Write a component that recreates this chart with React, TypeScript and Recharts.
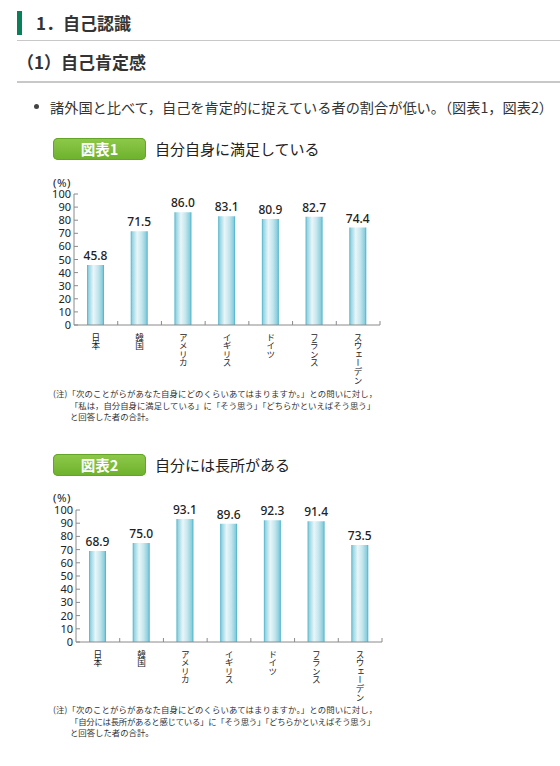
import React from 'react';
import { BarChart, Bar, XAxis, YAxis, LabelList } from 'recharts';

const categories = ['日本', '韓国', 'アメリカ', 'イギリス', 'ドイツ', 'フランス', 'スウェーデン'];
const fig1Values = [45.8, 71.5, 86.0, 83.1, 80.9, 82.7, 74.4];
const fig2Values = [68.9, 75.0, 93.1, 89.6, 92.3, 91.4, 73.5];
const yTicks = [0, 10, 20, 30, 40, 50, 60, 70, 80, 90, 100];

const fig1Title = '自分自身に満足している';
const fig2Title = '自分には長所がある';
const fig1Notes = [
  '(注)「次のことがらがあなた自身にどのくらいあてはまりますか。」との問いに対し，',
  '「私は，自分自身に満足している」に「そう思う」「どちらかといえばそう思う」',
  'と回答した者の合計。',
];
const fig2Notes = [
  '(注)「次のことがらがあなた自身にどのくらいあてはまりますか。」との問いに対し，',
  '「自分には長所があると感じている」に「そう思う」「どちらかといえばそう思う」',
  'と回答した者の合計。',
];

const JP = '"Noto Sans CJK JP", "Noto Sans", sans-serif';
const NUM = '"Noto Sans", "DejaVu Sans", sans-serif';
const AXIS = '#8a8a8a';

const YTick = (props: any) => {
  const { x, y, payload } = props;
  return (
    <g>
      <line x1={x} y1={y} x2={x + 4} y2={y} stroke={AXIS} strokeWidth={1} />
      <text x={x - 3} y={y} dy={4} textAnchor="end" fontSize={11} fill="#222" fontFamily={NUM}>
        {payload.value}
      </text>
    </g>
  );
};

const XTick = (props: any) => {
  const { x, y, payload } = props;
  const off = payload.offset ?? 21.86;
  return (
    <g>
      <line x1={x + off} y1={y} x2={x + off} y2={y - 4} stroke={AXIS} strokeWidth={1} />
      <text
        x={x}
        y={y + 8}
        textAnchor="start"
        fontSize={8.6}
        fill="#222"
        fontFamily={JP}
        style={{ writingMode: 'vertical-rl' } as any}
      >
        {payload.value}
      </text>
    </g>
  );
};

function Chart({ values, top, left, plotHeight, gid }: { values: number[]; top: number; left: number; plotHeight: number; gid: string }) {
  const data = categories.map((name, i) => ({ name, value: values[i] }));
  const marginTop = 44;
  const height = marginTop + plotHeight + 74;
  return (
    <div style={{ position: 'absolute', left, top }}>
      <BarChart
        width={560}
        height={height}
        data={data}
        margin={{ top: marginTop, right: 180, left: 0, bottom: 14 }}
        barCategoryGap={0}
      >
        <defs>
          <linearGradient id={gid} x1="0" y1="0" x2="1" y2="0">
            <stop offset="0%" stopColor="#4ab2ca" />
            <stop offset="10%" stopColor="#98d5e2" />
            <stop offset="38%" stopColor="#e9f6f9" />
            <stop offset="65%" stopColor="#c3e6ee" />
            <stop offset="90%" stopColor="#8acedd" />
            <stop offset="100%" stopColor="#46adc6" />
          </linearGradient>
        </defs>
        <XAxis
          dataKey="name"
          interval={0}
          height={60}
          tickSize={0}
          tickMargin={0}
          axisLine={{ stroke: AXIS, strokeWidth: 1 }}
          tickLine={false}
          tick={<XTick />}
        />
        <YAxis
          width={74}
          domain={[0, 100]}
          ticks={yTicks}
          interval={0}
          tickSize={0}
          tickMargin={0}
          axisLine={{ stroke: AXIS, strokeWidth: 1 }}
          tickLine={false}
          tick={<YTick />}
        />
        <Bar dataKey="value" fill={`url(#${gid})`} barSize={17} isAnimationActive={false}>
          <LabelList
            dataKey="value"
            position="top"
            offset={5}
            formatter={(v: any) => Number(v).toFixed(1)}
            style={{ fontSize: 12, fill: '#222', fontFamily: NUM, fontWeight: 500 }}
          />
        </Bar>
      </BarChart>
    </div>
  );
}

function Badge({ label, title, top }: { label: string; title: string; top: number }) {
  return (
    <>
      <div
        style={{
          position: 'absolute',
          left: 53,
          top,
          width: 93,
          height: 22,
          borderRadius: 5,
          background: 'linear-gradient(#8fc94a, #6cb12c)',
          boxShadow: 'inset 0 0 0 1px #63a526',
          color: '#fff',
          fontFamily: JP,
          fontWeight: 700,
          fontSize: 14.5,
          lineHeight: '22px',
          textAlign: 'center',
        }}
      >
        {label}
      </div>
      <div
        style={{
          position: 'absolute',
          left: 155,
          top,
          height: 22,
          lineHeight: '22px',
          fontFamily: JP,
          fontSize: 15,
          color: '#222',
          whiteSpace: 'nowrap',
        }}
      >
        {title}
      </div>
    </>
  );
}

function Notes({ lines, top }: { lines: string[]; top: number }) {
  return (
    <svg style={{ position: 'absolute', left: 0, top }} width={560} height={40}>
      <text x={53} y={9} fontSize={8.4} fontFamily={JP} fill="#333" textLength={324} lengthAdjust="spacing">
        {lines[0]}
      </text>
      <text x={70} y={21} fontSize={8.4} fontFamily={JP} fill="#333" textLength={305} lengthAdjust="spacing">
        {lines[1]}
      </text>
      <text x={70} y={32} fontSize={8.4} fontFamily={JP} fill="#333">
        {lines[2]}
      </text>
    </svg>
  );
}

function PctLabel({ top }: { top: number }) {
  return (
    <div
      style={{
        position: 'absolute',
        left: 53,
        top,
        fontFamily: NUM,
        fontSize: 11.5,
        letterSpacing: 0.5,
        color: '#222',
        lineHeight: '11px',
        height: 11,
      }}
    >
      (%)
    </div>
  );
}

export default function App() {
  return (
    <div style={{ position: 'absolute', left: 0, top: 0, width: 560, height: 766, background: '#fff', overflow: 'hidden' }}>
      <div style={{ position: 'absolute', left: 17, top: 11, width: 5, height: 24, background: '#0a7f5a' }} />
      <div
        style={{
          position: 'absolute',
          left: 36,
          top: 11,
          height: 24,
          lineHeight: '24px',
          fontFamily: JP,
          fontWeight: 700,
          fontSize: 17,
          color: '#333',
          whiteSpace: 'nowrap',
        }}
      >
        1．自己認識
      </div>
      <div style={{ position: 'absolute', left: 17, top: 40, width: 543, height: 1, background: '#c8c8c8' }} />
      <div
        style={{
          position: 'absolute',
          left: 17,
          top: 50,
          height: 24,
          lineHeight: '24px',
          fontFamily: JP,
          fontWeight: 700,
          fontSize: 17,
          color: '#333',
          whiteSpace: 'nowrap',
        }}
      >
        （1）自己肯定感
      </div>
      <div style={{ position: 'absolute', left: 17, top: 81, width: 543, height: 2, background: '#c8c8c8' }} />
      <div style={{ position: 'absolute', left: 34, top: 104, width: 5, height: 5, borderRadius: 3, background: '#444' }} />
      <div
        style={{
          position: 'absolute',
          left: 50,
          top: 96,
          height: 22,
          lineHeight: '22px',
          fontFamily: JP,
          fontSize: 14.2,
          color: '#333',
          whiteSpace: 'nowrap',
        }}
      >
        諸外国と比べて，自己を肯定的に捉えている者の割合が低い。（図表1，図表2）
      </div>

      <Badge label="図表1" title={fig1Title} top={138} />
      <PctLabel top={177} />
      <Chart values={fig1Values} top={150} left={0} plotHeight={131} gid="g1" />
      <Notes lines={fig1Notes} top={388} />

      <Badge label="図表2" title={fig2Title} top={454} />
      <PctLabel top={492} />
      <Chart values={fig2Values} top={466} left={2} plotHeight={132} gid="g2" />
      <Notes lines={fig2Notes} top={704} />
    </div>
  );
}
